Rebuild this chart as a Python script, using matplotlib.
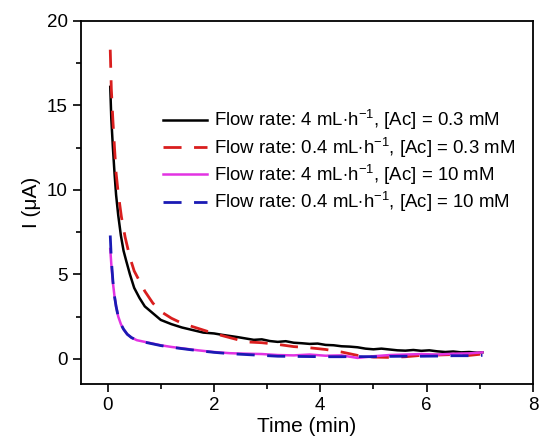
import matplotlib
matplotlib.use('Agg')
import matplotlib.pyplot as plt
from matplotlib.ticker import MultipleLocator

plt.rcParams['font.family'] = ['Liberation Sans', 'DejaVu Sans']
plt.rcParams['mathtext.fontset'] = 'custom'
plt.rcParams['mathtext.rm'] = 'Liberation Sans'
plt.rcParams['mathtext.it'] = 'Liberation Sans:italic'

# curves (time in min, current in uA)
t_black = [0.05, 0.07, 0.10, 0.13, 0.16, 0.2, 0.25, 0.3, 0.35, 0.42, 0.5, 0.6, 0.7, 0.85, 1.0,
           1.2, 1.4, 1.6, 1.8, 2.0, 2.15, 2.3, 2.45, 2.6, 2.75, 2.9, 3.05, 3.2, 3.35, 3.5, 3.65,
           3.8, 3.95, 4.1, 4.25, 4.4, 4.55, 4.7, 4.85, 5.0, 5.15, 5.3, 5.45, 5.6, 5.75, 5.9,
           6.05, 6.2, 6.35, 6.5, 6.65, 6.8, 6.95, 7.05]
i_black = [16.1, 14.2, 12.5, 11.0, 9.7, 8.5, 7.3, 6.4, 5.8, 5.0, 4.2, 3.6, 3.1, 2.7, 2.3,
           2.05, 1.85, 1.7, 1.55, 1.5, 1.42, 1.35, 1.28, 1.2, 1.12, 1.15, 1.05, 1.0, 1.04, 0.95, 0.92,
           0.88, 0.9, 0.82, 0.8, 0.74, 0.72, 0.68, 0.6, 0.56, 0.6, 0.55, 0.5, 0.48, 0.52, 0.47,
           0.5, 0.44, 0.4, 0.43, 0.38, 0.4, 0.36, 0.38]

t_red = [0.05, 0.07, 0.10, 0.13, 0.16, 0.2, 0.26, 0.33, 0.42, 0.5, 0.6, 0.7, 0.85, 1.0, 1.2,
         1.4, 1.7, 2.0, 2.3, 2.6, 2.9, 3.2, 3.5, 3.8, 4.1, 4.4, 4.7, 5.0, 5.3, 5.6, 5.9,
         6.2, 6.5, 6.8, 7.05]
i_red = [18.3, 16.0, 14.1, 12.5, 11.0, 9.8, 8.4, 7.2, 6.0, 5.2, 4.6, 4.0, 3.3, 2.8, 2.4,
         2.1, 1.8, 1.5, 1.25, 1.0, 0.95, 0.85, 0.72, 0.65, 0.55, 0.4, 0.2, 0.1, 0.08, 0.12, 0.2,
         0.22, 0.25, 0.2, 0.28]

t_low = [0.05, 0.07, 0.1, 0.13, 0.16, 0.2, 0.25, 0.3, 0.37, 0.45, 0.55, 0.7, 0.85, 1.0, 1.2,
         1.4, 1.7, 2.0, 2.3, 2.6, 2.9, 3.2, 3.5, 3.8, 4.1, 4.4, 4.7, 5.0, 5.3, 5.6, 5.9,
         6.2, 6.5, 6.8, 7.05]
i_magenta = [6.5, 5.6, 4.5, 3.7, 3.1, 2.5, 2.05, 1.75, 1.45, 1.25, 1.1, 1.0, 0.9, 0.8, 0.7,
             0.62, 0.5, 0.4, 0.33, 0.3, 0.28, 0.22, 0.2, 0.25, 0.18, 0.2, 0.05, 0.15, 0.22, 0.25, 0.28,
             0.25, 0.3, 0.32, 0.38]
i_blue = [7.3, 5.9, 4.6, 3.7, 3.1, 2.5, 2.05, 1.75, 1.45, 1.25, 1.1, 0.98, 0.88, 0.78, 0.68,
          0.6, 0.48, 0.38, 0.3, 0.25, 0.2, 0.15, 0.14, 0.13, 0.12, 0.12, 0.13, 0.12, 0.14, 0.15, 0.15,
          0.16, 0.18, 0.18, 0.2]

labels = ['Flow rate: 4 mL$\\cdot$h$^{-1}$, [Ac] = 0.3 mM',
          'Flow rate: 0.4 mL$\\cdot$h$^{-1}$, [Ac] = 0.3 mM',
          'Flow rate: 4 mL$\\cdot$h$^{-1}$, [Ac] = 10 mM',
          'Flow rate: 0.4 mL$\\cdot$h$^{-1}$, [Ac] = 10 mM']

fig = plt.figure(figsize=(5.4, 4.42), dpi=100)
ax = fig.add_axes([0.15, 0.131, 0.837, 0.8215])

dash = (0, (6.5, 4.5))
ax.plot(t_black, i_black, color='black', lw=1.8, label=labels[0])
ax.plot(t_red, i_red, color='#d91e1e', lw=2.0, ls=dash, label=labels[1])
ax.plot(t_low, i_magenta, color='#e233e2', lw=1.8, label=labels[2])
ax.plot(t_low, i_blue, color='#1a1ab4', lw=2.0, ls=dash, label=labels[3])

ax.set_xlim(-0.5, 8)
ax.set_ylim(-1.5, 20)
ax.xaxis.set_major_locator(MultipleLocator(2))
ax.xaxis.set_minor_locator(MultipleLocator(1))
ax.yaxis.set_major_locator(MultipleLocator(5))
ax.yaxis.set_minor_locator(MultipleLocator(2.5))
ax.tick_params(which='both', direction='out', labelsize=13.5, width=1.2)
ax.tick_params(which='major', length=6)
ax.tick_params(which='minor', length=3.5)
for s in ax.spines.values():
    s.set_linewidth(1.3)

ax.set_xlabel('Time (min)', fontsize=15, labelpad=2)
ax.set_ylabel('I (\u03bcA)', fontsize=15, labelpad=4)

ax.legend(loc='upper left', bbox_to_anchor=(0.181, 0.76), frameon=False, fontsize=13.4,
          handlelength=2.35, handletextpad=0.4, labelspacing=0.17, borderpad=0, borderaxespad=0)

fig.savefig('out.png', dpi=100)
